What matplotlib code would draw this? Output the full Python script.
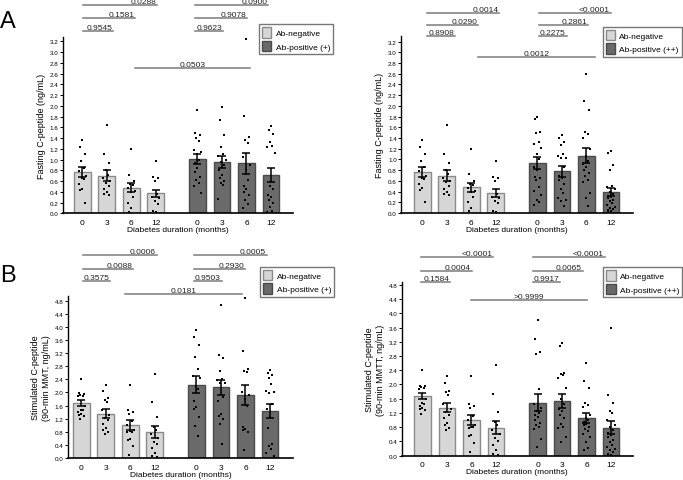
import numpy as np
import matplotlib.pyplot as plt
from matplotlib.patches import Patch

plt.rcParams['font.family'] = ['Liberation Sans', 'DejaVu Sans']

months = ['0', '3', '6', '12']
lbl_neg = 'Ab-negative'
lbl_p1 = 'Ab-positive (+)'
lbl_p2 = 'Ab-positive (++)'

# fasting C-peptide (ng/mL), individual values per visit (0, 3, 6, 12 months)
fast_neg = [
    [1.37, 1.23, 1.11, 0.97, 0.85, 0.78, 0.70, 0.66, 0.63, 0.55, 0.46, 0.43, 0.20],
    [1.65, 1.11, 0.94, 0.80, 0.72, 0.65, 0.60, 0.57, 0.50, 0.45, 0.40, 0.36, 0.34],
    [1.20, 0.72, 0.60, 0.55, 0.53, 0.47, 0.42, 0.40, 0.30, 0.20, 0.10, 0.03],
    [0.98, 0.68, 0.65, 0.60, 0.35, 0.30, 0.28, 0.22, 0.18, 0.04, 0.02],
]
fast_neg_mean = [0.77, 0.70, 0.48, 0.37]
fast_neg_sem = [0.09, 0.10, 0.08, 0.07]

fast_p1 = [
    [1.92, 1.49, 1.45, 1.40, 1.35, 1.18, 1.14, 1.10, 1.00, 0.93, 0.85, 0.77, 0.68, 0.62, 0.56, 0.50, 0.37],
    [1.98, 1.73, 1.46, 1.24, 1.10, 1.06, 1.00, 0.96, 0.90, 0.80, 0.71, 0.65, 0.60, 0.56, 0.52, 0.26],
    [3.25, 1.81, 1.42, 1.36, 1.30, 1.05, 0.90, 0.80, 0.62, 0.51, 0.46, 0.40, 0.34, 0.25, 0.18, 0.10],
    [1.62, 1.55, 1.47, 1.33, 1.25, 1.24, 1.13, 0.50, 0.45, 0.34, 0.30, 0.25, 0.20, 0.12, 0.05, 0.03],
]
fast_p1_mean = [1.01, 0.95, 0.93, 0.72]
fast_p1_sem = [0.10, 0.11, 0.19, 0.13]

fast_p2 = [
    [1.80, 1.75, 1.52, 1.50, 1.33, 1.28, 1.22, 1.10, 1.00, 0.85, 0.80, 0.68, 0.65, 0.62, 0.49, 0.42, 0.34, 0.25, 0.20, 0.15],
    [1.45, 1.40, 1.33, 1.27, 1.10, 1.06, 1.03, 1.02, 0.85, 0.70, 0.66, 0.62, 0.55, 0.45, 0.38, 0.28, 0.24, 0.22, 0.13],
    [2.60, 2.09, 1.92, 1.51, 1.48, 1.40, 1.20, 1.06, 0.98, 0.92, 0.85, 0.80, 0.75, 0.70, 0.62, 0.58, 0.37, 0.28, 0.14],
    [1.16, 1.12, 0.90, 0.80, 0.51, 0.48, 0.45, 0.40, 0.35, 0.32, 0.30, 0.28, 0.25, 0.22, 0.18, 0.15, 0.12, 0.10, 0.07, 0.05, 0.04, 0.03],
]
fast_p2_mean = [0.93, 0.78, 1.07, 0.39]
fast_p2_sem = [0.11, 0.10, 0.14, 0.07]

# stimulated C-peptide (90-min MMTT, ng/mL)
stim_neg = [
    [2.42, 1.97, 1.95, 1.93, 1.90, 1.88, 1.60, 1.47, 1.45, 1.40, 1.35, 1.30, 1.28, 1.18],
    [2.24, 2.03, 1.83, 1.78, 1.70, 1.45, 1.30, 1.22, 1.15, 1.05, 0.92, 0.85, 0.78, 0.72],
    [2.24, 1.45, 1.40, 1.35, 1.12, 1.00, 0.85, 0.82, 0.80, 0.78, 0.58, 0.55, 0.36, 0.10],
    [2.56, 1.72, 1.24, 0.95, 0.85, 0.72, 0.62, 0.50, 0.42, 0.30, 0.15, 0.05, 0.03],
]
stim_neg_mean = [1.67, 1.35, 1.00, 0.79]
stim_neg_sem = [0.09, 0.13, 0.15, 0.19]

stim_p1 = [
    [3.90, 3.69, 3.44, 3.07, 2.70, 2.50, 2.45, 2.20, 2.10, 1.75, 1.55, 1.50, 1.25, 0.98, 0.66],
    [4.67, 3.15, 3.05, 2.66, 2.42, 2.38, 2.30, 2.30, 1.85, 1.75, 1.35, 1.28, 1.20, 1.05, 0.43],
    [4.87, 3.27, 2.70, 2.66, 2.62, 2.00, 1.92, 1.80, 1.60, 0.95, 0.88, 0.85, 0.80, 0.23],
    [2.68, 2.60, 2.52, 2.45, 2.27, 2.05, 2.00, 1.98, 1.65, 1.50, 1.25, 0.93, 0.42, 0.36, 0.28, 0.15, 0.05],
]
stim_p1_mean = [2.24, 2.16, 1.92, 1.44]
stim_p1_sem = [0.25, 0.23, 0.30, 0.22]

stim_p2 = [
    [3.80, 3.28, 2.92, 2.86, 1.87, 1.45, 1.35, 1.25, 1.20, 1.15, 1.10, 1.00, 0.92, 0.85, 0.80, 0.75, 0.48, 0.25],
    [3.16, 3.08, 2.33, 2.30, 2.28, 2.18, 1.90, 1.60, 1.45, 1.32, 1.25, 1.15, 1.05, 0.88, 0.82, 0.78, 0.52, 0.38],
    [2.60, 2.10, 1.90, 1.48, 1.42, 1.38, 1.15, 1.05, 1.00, 0.95, 0.90, 0.85, 0.80, 0.75, 0.70, 0.62, 0.52, 0.38, 0.22, 0.15],
    [3.58, 1.70, 1.48, 1.25, 1.20, 1.00, 0.85, 0.80, 0.72, 0.65, 0.58, 0.52, 0.45, 0.38, 0.30, 0.25, 0.20, 0.15, 0.10, 0.05, 0.03],
]
stim_p2_mean = [1.49, 1.53, 1.05, 0.79]
stim_p2_sem = [0.23, 0.19, 0.14, 0.19]

# p-values: within negative (0v3, 0v6, 0v12), within positive (0v3, 0v6, 0v12), neg 6 vs pos 6
p_fast_p1 = ['0.9545', '0.1581', '0.0288', '0.9623', '0.9078', '0.0900', '0.0503']
p_fast_p2 = ['0.8908', '0.0290', '0.0014', '0.2275', '0.2861', '<0.0001', '0.0012']
p_stim_p1 = ['0.3575', '0.0088', '0.0006', '0.9503', '0.2930', '0.0005', '0.0181']
p_stim_p2 = ['0.1584', '0.0004', '<0.0001', '0.9917', '0.0065', '<0.0001', '>0.9999']

W, H = 683, 481
fig = plt.figure(figsize=(W / 100, H / 100), dpi=100)

LIGHT, LIGHT_E = '#d6d6d6', '#8a8a8a'
DARK, DARK_E = '#6a6a6a', '#4a4a4a'
xpos = np.r_[np.arange(4), np.arange(4) + 4.7]
jit = np.array([0.0, -0.1, 0.1, -0.05, 0.05, -0.15, 0.15, -0.02, 0.08, -0.12])


def add_ax(l, t, r, b):
    return fig.add_axes([l / W, 1 - b / H, (r - l) / W, (b - t) / H])


def panel(ax, neg, nm, ns, pos, pm, ps, pos_lbl, pv, ylab, ymax, ystep, xl, lines):
    means = nm + pm
    sems = ns + ps
    cols = [LIGHT] * 4 + [DARK] * 4
    ecols = [LIGHT_E] * 4 + [DARK_E] * 4
    ax.bar(xpos, means, width=0.68, color=cols, edgecolor=ecols, linewidth=1.0, zorder=1)
    for x, vals in zip(xpos, neg + pos):
        xs = x + jit[np.arange(len(vals)) % len(jit)]
        ax.scatter(xs, vals, s=3.5, marker='s', color='black', linewidths=0, zorder=3)
    ax.errorbar(xpos, means, yerr=sems, fmt='none', ecolor='black', elinewidth=1.1,
                capsize=3.2, capthick=1.1, zorder=4)
    ax.set_xlim(*xl)
    ax.set_ylim(0, ymax)
    ax.set_yticks(np.arange(0, ymax - 0.05, ystep))
    ax.set_yticklabels([f'{v:.1f}' for v in np.arange(0, ymax - 0.05, ystep)])
    ax.set_xticks(xpos)
    ax.set_xticklabels(months * 2)
    ax.tick_params(axis='x', length=0, labelsize=6, pad=4)
    ax.tick_params(axis='y', length=2, width=0.7, labelsize=4.5, pad=1)
    for s in ['top', 'right']:
        ax.spines[s].set_visible(False)
    ax.spines['left'].set_linewidth(1.0)
    ax.spines['bottom'].set_linewidth(1.2)
    ax.set_xlabel('Diabetes duration (months)', fontsize=6, labelpad=0)
    ax.set_ylabel(ylab, fontsize=6.5, labelpad=3)
    for (x0, x1, y), txt in zip(lines[:6], pv[:6]):
        ax.plot([x0, x1], [y, y], color='#7a7a7a', lw=1.1, clip_on=False)
        ax.text(x1 - 0.03, y, txt, ha='right', va='bottom', fontsize=6, color='#222222', clip_on=False)
    x0, x1, y = lines[6]
    ax.plot([x0, x1], [y, y], color='#7a7a7a', lw=1.1, clip_on=False)
    ax.text((x0 + x1) / 2, y, pv[6], ha='center', va='bottom', fontsize=6, color='#222222')
    return [Patch(facecolor=LIGHT, edgecolor=LIGHT_E, label=lbl_neg),
            Patch(facecolor=DARK, edgecolor=DARK_E, label=pos_lbl)]


def legend(handles, right, top):
    fig.legend(handles=handles, loc='upper right', bbox_to_anchor=(right / W, 1 - top / H),
               fontsize=6, frameon=True, fancybox=False, edgecolor='#555555',
               handlelength=1.1, handleheight=1.6, labelspacing=0.35, handletextpad=0.5,
               borderpad=0.35, borderaxespad=0)


ylab_f = 'Fasting C-peptide (ng/mL)'

ax1 = add_ax(62.7, 38, 293, 214.3)
h = panel(ax1, fast_neg, fast_neg_mean, fast_neg_sem, fast_p1, fast_p1_mean, fast_p1_sem,
          lbl_p1, p_fast_p1, ylab_f, 3.28, 0.2, (-0.8, 8.6),
          [(0.03, 1.25, 3.39), (0.03, 2.15, 3.63), (0.03, 3.05, 3.88),
           (4.6, 5.74, 3.39), (4.6, 6.72, 3.63), (4.6, 7.58, 3.88), (2.15, 6.84, 2.71)])
legend(h, 333, 25)

ax2 = add_ax(401, 37.3, 632.7, 214)
h = panel(ax2, fast_neg, fast_neg_mean, fast_neg_sem, fast_p2, fast_p2_mean, fast_p2_sem,
          lbl_p2, p_fast_p2, ylab_f, 3.3, 0.2, (-0.87, 8.59),
          [(0.18, 1.34, 3.30), (0.18, 2.27, 3.51), (0.18, 3.13, 3.73),
           (4.76, 5.89, 3.30), (4.76, 6.78, 3.51), (4.76, 7.69, 3.73), (2.29, 7.05, 2.92)])
legend(h, 681.7, 27.7)

ax3 = add_ax(67.7, 296.7, 293, 459)
h = panel(ax3, stim_neg, stim_neg_mean, stim_neg_sem, stim_p1, stim_p1_mean, stim_p1_sem,
          lbl_p1, p_stim_p1, 'Stimulated C-peptide\n(90-min MMT, ng/mL)', 4.95, 0.4, (-0.555, 8.64),
          [(0.06, 1.17, 5.41), (0.06, 2.12, 5.76), (0.06, 3.08, 6.19),
           (4.61, 5.73, 5.41), (4.61, 6.68, 5.76), (4.61, 7.57, 6.19), (1.78, 6.55, 5.0)])
legend(h, 334, 267.7)

ax4 = add_ax(401.7, 283.3, 632.7, 456.7)
h = panel(ax4, stim_neg, stim_neg_mean, stim_neg_sem, stim_p2, stim_p2_mean, stim_p2_sem,
          lbl_p2, p_stim_p2, 'Stimulated C-peptide\n(90-min MMTT, ng/mL)', 4.87, 0.4, (-0.85, 8.59),
          [(-0.07, 1.12, 4.87), (-0.07, 2.01, 5.20), (-0.07, 2.89, 5.57),
           (4.5, 5.61, 4.87), (4.5, 6.54, 5.20), (4.5, 7.45, 5.57), (1.97, 6.73, 4.37)])
legend(h, 682, 268)

fig.text(0.0, 1 - 28 / H, 'A', fontsize=17, ha='left', va='baseline')
fig.text(0.0, 1 - 282 / H, 'B', fontsize=17, ha='left', va='baseline')

fig.savefig('out.png', dpi=100)
